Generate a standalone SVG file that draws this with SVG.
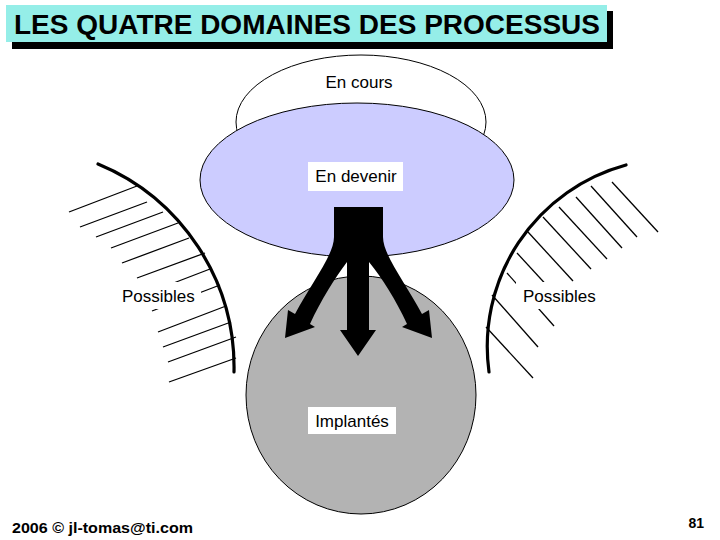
<svg xmlns="http://www.w3.org/2000/svg" width="720" height="540" viewBox="0 0 720 540">
  <style>
    .lbl { font-family: "Liberation Sans", Arial, sans-serif; font-size: 17px; fill: #000; }
    .hatch { stroke: #000; stroke-width: 1.3; fill: none; }
    .arc { stroke: #000; stroke-width: 3.2; fill: none; stroke-linecap: round; }
    .box { fill: #fff; stroke: none; }
    .foot { font-family: "Liberation Sans", Arial, sans-serif; font-weight: bold; fill: #000; }
  </style>
  <rect width="720" height="540" fill="#fff"/>

  <g id="title">
    <rect x="12" y="11" width="601" height="38" fill="#000"/>
    <rect x="6" y="5" width="601" height="37" fill="#95EEE8"/>
    <text x="14" y="34" textLength="586" lengthAdjust="spacingAndGlyphs" style="font-family:'Liberation Sans',Arial,sans-serif;font-size:27px;font-weight:bold">LES QUATRE DOMAINES DES PROCESSUS</text>
  </g>

  <g id="possibles-left">
    <line class="hatch" x1="69" y1="212" x2="137" y2="186"/>
    <line class="hatch" x1="80" y1="227" x2="147" y2="202"/>
    <line class="hatch" x1="96" y1="237" x2="163" y2="212"/>
    <line class="hatch" x1="111" y1="248" x2="178" y2="223"/>
    <line class="hatch" x1="122" y1="263" x2="189" y2="238"/>
    <line class="hatch" x1="137" y1="278" x2="205" y2="253"/>
    <line class="hatch" x1="145" y1="294" x2="210" y2="269"/>
    <line class="hatch" x1="152" y1="311" x2="220" y2="285"/>
    <line class="hatch" x1="158" y1="332" x2="226" y2="306"/>
    <line class="hatch" x1="163" y1="347" x2="231" y2="322"/>
    <line class="hatch" x1="168" y1="362" x2="236" y2="337"/>
    <line class="hatch" x1="169" y1="382" x2="236" y2="358"/>
    <path class="arc" d="M98,164 A220,220 0 0 1 234,372"/>
    <rect class="box" x="115" y="282" width="86" height="27"/>
    <text class="lbl" x="122" y="302">Possibles</text>
  </g>

  <g id="possibles-right">
    <line class="hatch" x1="612" y1="182" x2="658" y2="232"/>
    <line class="hatch" x1="591" y1="186" x2="637" y2="237"/>
    <line class="hatch" x1="576" y1="197" x2="622" y2="248"/>
    <line class="hatch" x1="559" y1="207" x2="607" y2="259"/>
    <line class="hatch" x1="543" y1="217" x2="591" y2="269"/>
    <line class="hatch" x1="528" y1="232" x2="573" y2="281"/>
    <line class="hatch" x1="517" y1="253" x2="563" y2="303"/>
    <line class="hatch" x1="507" y1="273" x2="554" y2="326"/>
    <line class="hatch" x1="492" y1="295" x2="538" y2="347"/>
    <line class="hatch" x1="486" y1="327" x2="533" y2="378"/>
    <path class="arc" d="M626,165 A188,188 0 0 0 489,372"/>
    <rect class="box" x="516" y="282" width="88" height="27"/>
    <text class="lbl" x="523" y="302">Possibles</text>
  </g>

  <g id="en-cours">
    <ellipse cx="361" cy="122" rx="125" ry="67" fill="#fff" stroke="#000" stroke-width="1"/>
    <text class="lbl" x="359" y="88" text-anchor="middle">En cours</text>
  </g>

  <g id="implantes">
    <ellipse cx="361" cy="395" rx="115" ry="119" fill="#B3B3B3" stroke="#000" stroke-width="1"/>
    <rect class="box" x="308" y="407" width="88" height="27"/>
    <text class="lbl" x="352" y="427" text-anchor="middle">Implantés</text>
  </g>

  <g id="en-devenir">
    <ellipse cx="357" cy="180" rx="157" ry="77" fill="#CCCCFF" stroke="#000" stroke-width="1"/>
    <rect class="box" x="308" y="162" width="95" height="29"/>
    <text class="lbl" x="356" y="182" text-anchor="middle">En devenir</text>
  </g>

  <g id="connectors">
    <path fill="#000" d="M334,207 L383,207 L383,237 C383,255 405,282 422,314 L429,310 L432,338 L402,327 L407,324 C396,300 382,278 369,262 L369,330 L376,330 L358,356 L340,330 L347,330 L347,262 C335,278 321,300 310,324 L315,327 L285,338 L288,310 L295,314 C312,282 334,255 334,237 Z"/>
  </g>

  <g id="footer">
    <text class="foot" x="12" y="533" font-size="15" textLength="181" lengthAdjust="spacingAndGlyphs">2006 © jl-tomas@ti.com</text>
    <text class="foot" x="704" y="528" font-size="14" text-anchor="end">81</text>
  </g>
</svg>
